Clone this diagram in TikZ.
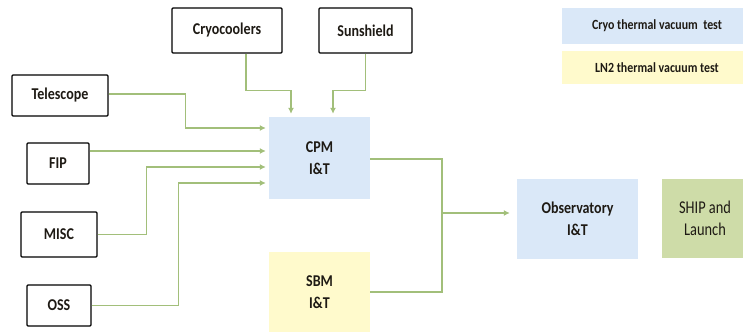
\documentclass[tikz,border=0pt]{standalone}
\usepackage{fontspec}
\setmainfont{Carlito}[FakeStretch=0.85]
\usetikzlibrary{positioning, arrows.meta, calc}

\definecolor{linegreen}{HTML}{A2BF7A}
\definecolor{cryoblue}{HTML}{DAE8F8}
\definecolor{lnyellow}{HTML}{FFFACC}
\definecolor{shipgreen}{HTML}{CEDCA8}
\definecolor{ink}{HTML}{1E1A14}

\tikzset{
    part/.style={draw, line width=1.2pt, rounded corners=1pt, inner sep=0pt, text=ink,
        font=\fontsize{16.5}{21}\selectfont\bfseries, align=center},
    stage/.style={inner sep=0pt, text=ink, font=\fontsize{16.5}{22}\selectfont\bfseries, align=center},
    legend/.style={inner sep=0pt, text=ink, font=\fontsize{14}{16}\selectfont\bfseries},
    flow/.style={draw=linegreen, line width=1.3pt},
    feed/.style={flow, -{Latex[length=6pt,width=6pt]}, shorten >=3pt},
}

\begin{document}
\begin{tikzpicture}[x=1pt, y=-1pt]
    \useasboundingbox (0, 0) rectangle (743, 332);

    \node[part, minimum width=110pt, minimum height=45pt] (cryo) at (227, 30.5) {Cryocoolers};
    \node[part, minimum width=93pt, minimum height=45pt] (sun) at (365.5, 30.5) {Sunshield};
    \node[part, minimum width=96pt, minimum height=41pt] (tele) at (60, 95.5) {Telescope};
    \node[part, minimum width=62pt, minimum height=41pt] (fip) at (58, 163.5) {FIP};
    \node[part, minimum width=76pt, minimum height=45pt] (misc) at (59, 234.5) {MISC};
    \node[part, minimum width=64pt, minimum height=41pt] (oss) at (59, 305.5) {OSS};

    \node[stage, fill=cryoblue, minimum width=101pt, minimum height=82pt] (cpm) at (319.5, 158) {CPM\\I\&T};
    \node[stage, fill=lnyellow, minimum width=101pt, minimum height=80pt] (sbm) at (319.5, 292) {SBM\\I\&T};
    \node[stage, fill=cryoblue, minimum width=121pt, minimum height=80pt] (obs) at (577.5, 219) {Observatory\\I\&T};
    \node[stage, fill=shipgreen, minimum width=86pt, minimum height=79pt,
        font=\fontsize{18}{22}\selectfont\addfontfeature{FakeStretch=0.8}] (ship) at (705, 218.5) {SHIP and\\Launch};

    \node[legend, fill=cryoblue, minimum width=190pt, minimum height=36pt] (cryotest) at (657, 26) {Cryo thermal vacuum \ test};
    \node[legend, fill=lnyellow, minimum width=190pt, minimum height=33pt] (lntest) at (657, 67.5) {LN2 thermal vacuum test};

    % inputs to CPM
    \draw[feed] ([xshift=19pt]cryo.south) -- ++(0, 37) -| ([xshift=-28.5pt]cpm.north);
    \draw[feed] (sun.south) -- ++(0, 37) -| ([xshift=13.5pt]cpm.north);
    \draw[feed] ([yshift=1.5pt]tele.east) -| ++(77, 34) -- ([yshift=30pt]cpm.west);
    \draw[feed] ([yshift=12.5pt]fip.east) -- ([yshift=7pt]cpm.west);
    \draw[feed] (misc.east) -| ++(49, -67.5) -- ([yshift=-9pt]cpm.west);
    \draw[feed] (oss.east) -| ++(87, -122.5) -- ([yshift=-25pt]cpm.west);

    % merge into observatory
    \coordinate (join) at (442, 213);
    \draw[flow] ([yshift=-1pt]cpm.east) -| (join) |- (sbm.east);
    \draw[feed, shorten >=7pt] (join) -- (join -| obs.west);
\end{tikzpicture}
\end{document}
